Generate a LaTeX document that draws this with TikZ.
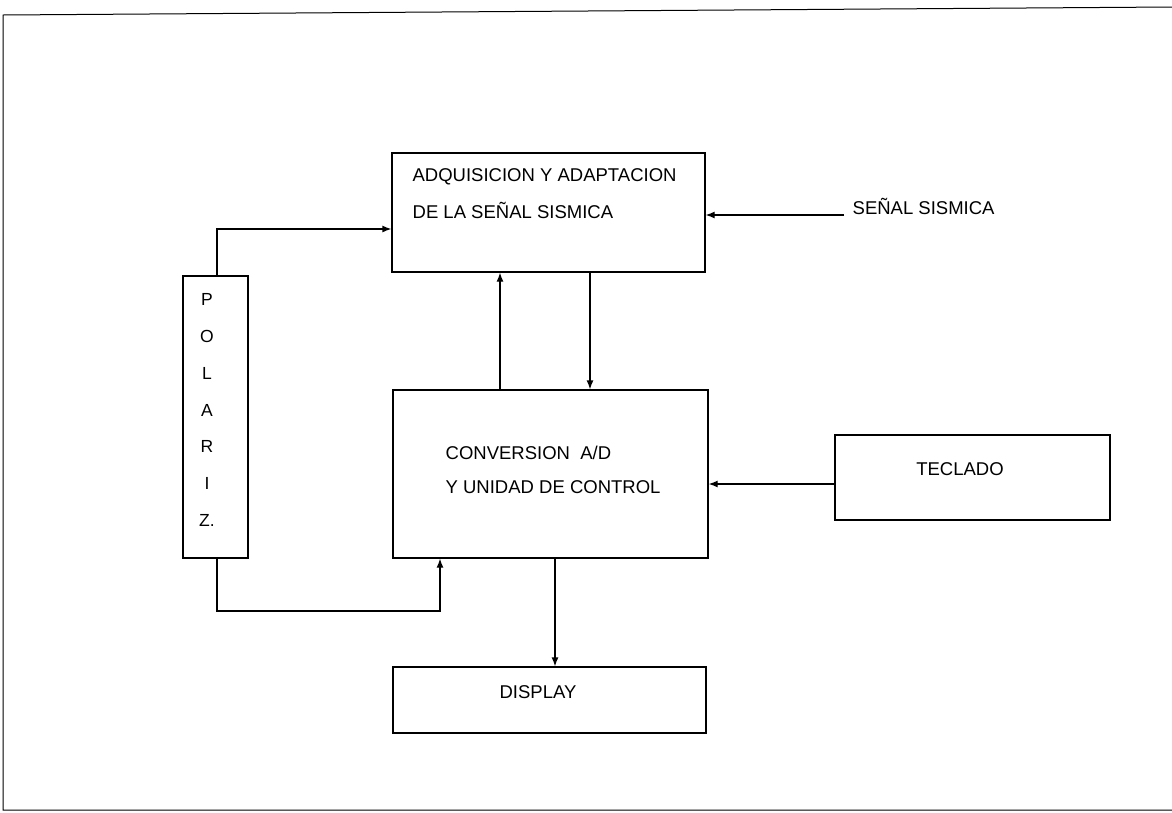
\documentclass[tikz,border=0pt]{standalone}
\usepackage{fontspec}
\setmainfont{Liberation Sans}
\usetikzlibrary{arrows.meta}

\begin{document}
\begin{tikzpicture}[x=1pt, y=-1pt, line width=1.3pt,
	every node/.style={font=\fontsize{18.5}{21}\selectfont},
	block/.style={draw, rectangle, inner sep=0pt},
	txt/.style={inner sep=0pt},
	arr/.style={-{Latex[length=9pt, width=7pt]}}]
	\useasboundingbox (0,0) rectangle (1172,812);
	% marco
	\draw[line width=1pt] (1172,7) -- (3,15) -- (3,810) -- (1172,810);
	% bloques
	\node[block, minimum width=313pt, minimum height=119pt] (adq) at (548.5,212.5) {};
	\node[block, minimum width=315pt, minimum height=168pt] (conv) at (550.5,474) {};
	\node[block, minimum width=65pt, minimum height=282pt] (polariz) at (215.5,417) {};
	\node[block, minimum width=275pt, minimum height=85pt] (teclado) at (972.5,477.5) {};
	\node[block, minimum width=313pt, minimum height=66pt] (display) at (549.5,700) {};
	% textos
	\node[txt, anchor=west, align=left, font=\fontsize{18.5}{37}\selectfont] (adqtxt) at (412,193.5)
		{ADQUISICION Y ADAPTACION\\DE LA SEÑAL SISMICA};
	\node[txt, anchor=west, align=left, font=\fontsize{18.5}{34}\selectfont] (convtxt) at (445,470)
		{CONVERSION\ \ A/D\\Y UNIDAD DE CONTROL};
	\node[txt, align=center, font=\fontsize{17.5}{36.7}\selectfont] (polariztxt) at (207,410)
		{P\\O\\L\\A\\R\\I\\Z.};
	\node[txt] (tecladotxt) at (960,469) {TECLADO};
	\node[txt] (displaytxt) at (538,692) {DISPLAY};
	\node[txt, anchor=west] (senal) at (852,206) {SEÑAL SISMICA};
	% conexiones
	\coordinate (polsup) at (217,229);
	\coordinate (senalin) at (844,215);
	\coordinate (bajada) at (590,0);
	\coordinate (subida) at (500,0);
	\coordinate (tecy) at (0,484);
	\coordinate (salida) at (555,0);
	\coordinate (retorno) at (440,611);
	\draw[arr] (polariz.north -| polsup) -- (polsup) -- (adq.west |- polsup);
	\draw[arr] (senalin) -- (adq.east |- senalin);
	\draw[arr] (adq.south -| bajada) -- (conv.north -| bajada);
	\draw[arr] (conv.north -| subida) -- (adq.south -| subida);
	\draw[arr] (teclado.west |- tecy) -- (conv.east |- tecy);
	\draw[arr] (conv.south -| salida) -- (display.north -| salida);
	\draw[arr] (polariz.south -| polsup) -- (polsup |- retorno) -- (retorno) -- (conv.south -| retorno);
\end{tikzpicture}
\end{document}
